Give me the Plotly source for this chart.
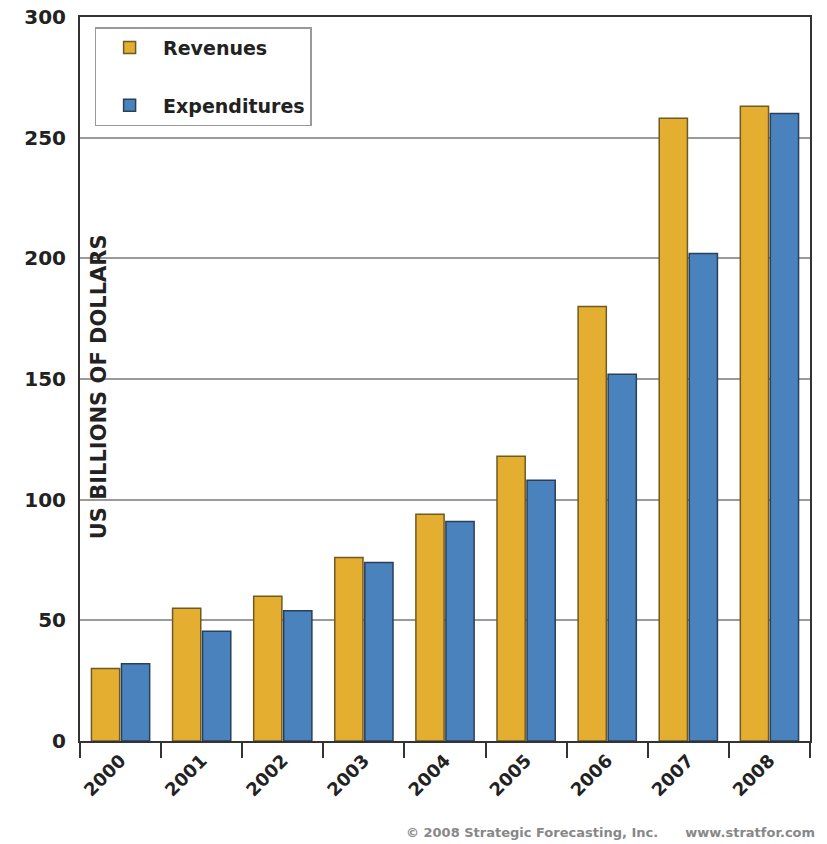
import plotly.graph_objects as go

years = ["2000", "2001", "2002", "2003", "2004", "2005", "2006", "2007", "2008"]
revenues = [30, 55, 60, 76, 94, 118, 180, 258, 263]
expenditures = [32, 45.5, 54, 74, 91, 108, 152, 202, 260]
y_ticks = [0, 50, 100, 150, 200, 250, 300]

FONT = "DejaVu Sans"

fig = go.Figure()
fig.add_trace(go.Bar(
    x=years, y=revenues, name="Revenues", legendgroup="r",
    marker=dict(color="#E4AE30", line=dict(color="#6E5A22", width=1.5)),
))
fig.add_trace(go.Bar(
    x=years, y=expenditures, name="Expenditures", legendgroup="e",
    marker=dict(color="#4A82BE", line=dict(color="#2A3F5A", width=1.5)),
))

fig.update_layout(
    width=827, height=844,
    margin=dict(l=80, r=17, t=17, b=103, autoexpand=False),
    paper_bgcolor="white", plot_bgcolor="white",
    barmode="group", bargap=0.26, bargroupgap=0.06,
    font=dict(family=FONT, color="#222222"),
    showlegend=True,
    legend=dict(
        x=0.02, y=0.986, xanchor="left", yanchor="top",
        bgcolor="white", bordercolor="#999999", borderwidth=1.5,
        font=dict(family=FONT, size=19, weight="bold", color="#222222"),
        itemwidth=57, tracegroupgap=30,
    ),
    xaxis=dict(
        automargin=False,
        showline=True, linecolor="#333333", linewidth=2, mirror=True,
        ticks="outside", tickson="boundaries", ticklen=15, tickwidth=2, tickcolor="#333333",
        tickangle=-45,
        tickfont=dict(family=FONT, size=18, weight="bold", color="#222222"),
        showgrid=False,
    ),
    yaxis=dict(
        automargin=False, ticklabeloverflow="allow",
        range=[0, 300], tickvals=y_ticks,
        showline=True, linecolor="#333333", linewidth=2, mirror=True,
        showgrid=True, gridcolor="#9a9a9a", gridwidth=1.5,
        ticks="", ticklabelstandoff=8,
        tickfont=dict(family=FONT, size=20, weight="bold", color="#222222"),
        zeroline=False,
    ),
    annotations=[
        dict(text="US BILLIONS OF DOLLARS", xref="paper", yref="paper",
             x=0.026, y=0.49, xanchor="center", yanchor="middle", textangle=-90, showarrow=False,
             font=dict(family=FONT, size=21, weight="bold", color="#222222")),
        dict(text="© 2008 Strategic Forecasting, Inc.      www.stratfor.com",
             xref="paper", yref="paper", x=1.01, y=-0.127, xanchor="right", yanchor="middle",
             showarrow=False, font=dict(family=FONT, size=13, weight="bold", color="#888888")),
    ],
)

fig.write_html("out.html")
